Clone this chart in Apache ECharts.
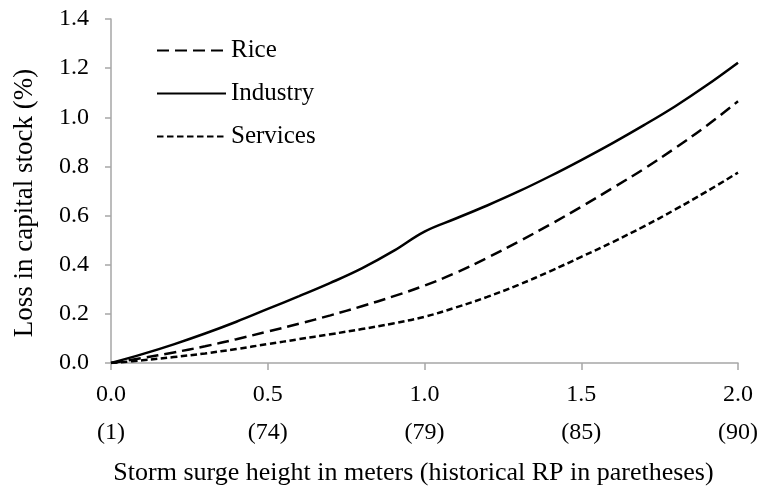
<!DOCTYPE html>
<html>
<head>
<meta charset="utf-8">
<script src="https://cdn.jsdelivr.net/npm/echarts@6/dist/echarts.min.js"></script>
<style>
  html, body { margin: 0; padding: 0; background: #fff; }
  #chart { width: 763px; height: 493px; }
</style>
</head>
<body>
<div id="chart"></div>
<script>
// surge height (m), 0.1 steps
const heights = [0, 0.1, 0.2, 0.3, 0.4, 0.5, 0.6, 0.7, 0.8, 0.9, 1.0,
                 1.1, 1.2, 1.3, 1.4, 1.5, 1.6, 1.7, 1.8, 1.9, 2.0];
const rice = [0, 0.02, 0.043, 0.068, 0.097, 0.128, 0.16, 0.194, 0.231, 0.271, 0.315,
              0.367, 0.428, 0.494, 0.563, 0.636, 0.712, 0.79, 0.875, 0.966, 1.065];
const industry = [0, 0.036, 0.076, 0.12, 0.168, 0.22, 0.272, 0.326, 0.385, 0.455, 0.535,
                  0.588, 0.641, 0.698, 0.76, 0.826, 0.895, 0.968, 1.045, 1.13, 1.222];
const services = [0, 0.011, 0.024, 0.039, 0.057, 0.077, 0.097, 0.117, 0.138, 0.161, 0.188,
                  0.226, 0.269, 0.318, 0.373, 0.432, 0.492, 0.556, 0.625, 0.698, 0.775];

const xTickLabels = ['0.0', '0.5', '1.0', '1.5', '2.0'];
const rpLabels = ['(1)', '(74)', '(79)', '(85)', '(90)'];

const font = '"Liberation Serif", "Times New Roman", serif';
const axisGrey = '#a6a6a6';

const pairs = arr => heights.map((h, i) => [h, arr[i]]);

const chart = echarts.init(document.getElementById('chart'));

const option = {
  backgroundColor: '#fff',
  animation: false,
  textStyle: { fontFamily: font, color: '#000' },
  grid: {
    left: 111,
    right: 25,
    top: 19,
    bottom: 130,
    containLabel: false
  },
  legend: {
    orient: 'vertical',
    left: 151,
    top: 33,
    itemWidth: 69,
    itemHeight: 14,
    itemGap: 18,
    itemStyle: { opacity: 0 },
    textStyle: { fontFamily: font, fontSize: 25, color: '#000', lineHeight: 25 },
    data: ['Rice', 'Industry', 'Services']
  },
  xAxis: {
    type: 'value',
    min: 0,
    max: 2,
    interval: 0.5,
    name: 'Storm surge height in meters (historical RP in paretheses)',
    nameLocation: 'middle',
    nameGap: 97,
    nameTextStyle: { fontFamily: font, fontSize: 26, color: '#000', padding: [0, 22, 0, 0] },
    axisLine: { show: true, lineStyle: { color: axisGrey, width: 1.5 } },
    axisTick: { show: true, length: 7, lineStyle: { color: axisGrey, width: 1.5 } },
    splitLine: { show: false },
    axisLabel: {
      margin: 13,
      fontFamily: font,
      fontSize: 24,
      lineHeight: 38,
      color: '#000',
      formatter: v => {
        const i = Math.round(v / 0.5);
        return xTickLabels[i] + '\n' + rpLabels[i];
      }
    }
  },
  yAxis: {
    type: 'value',
    min: 0,
    max: 1.4,
    interval: 0.2,
    name: 'Loss in capital stock (%)',
    nameLocation: 'middle',
    nameGap: 73,
    nameTextStyle: { fontFamily: font, fontSize: 27, color: '#000', padding: [0, 24, 0, 0] },
    axisLine: { show: true, lineStyle: { color: axisGrey, width: 1.5 } },
    axisTick: { show: true, length: 6, lineStyle: { color: axisGrey, width: 1.5 } },
    splitLine: { show: false },
    axisLabel: {
      margin: 22,
      fontFamily: font,
      fontSize: 24,
      color: '#000',
      formatter: v => v.toFixed(1)
    }
  },
  series: [
    {
      name: 'Rice',
      type: 'line',
      data: pairs(rice),
      smooth: 0.4,
      symbol: 'none',
      lineStyle: { color: '#000', width: 2.5, type: [12, 6] },
      itemStyle: { color: '#000' }
    },
    {
      name: 'Industry',
      type: 'line',
      data: pairs(industry),
      smooth: 0.4,
      symbol: 'none',
      lineStyle: { color: '#000', width: 2.5, type: 'solid' },
      itemStyle: { color: '#000' }
    },
    {
      name: 'Services',
      type: 'line',
      data: pairs(services),
      smooth: 0.4,
      symbol: 'none',
      lineStyle: { color: '#000', width: 2.5, type: [6.5, 3.5] },
      itemStyle: { color: '#000' }
    }
  ]
};

chart.setOption(option);
</script>
</body>
</html>
